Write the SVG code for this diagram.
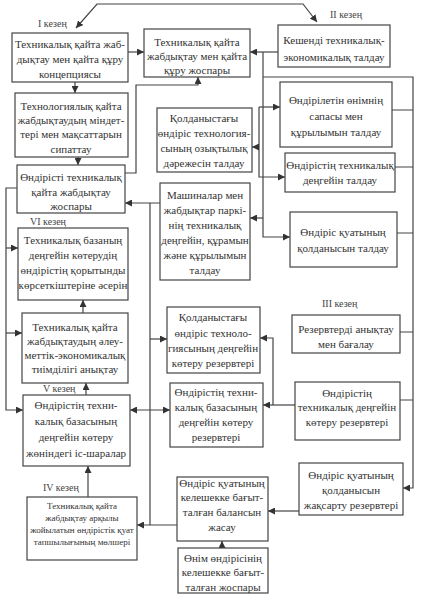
<svg xmlns="http://www.w3.org/2000/svg" width="424" height="600" viewBox="0 0 424 600">
<defs>
<marker id="ah" viewBox="0 0 10 10" refX="10" refY="5" markerWidth="7" markerHeight="7" markerUnits="userSpaceOnUse" orient="auto-start-reverse">
<path d="M0,0 L10,5 L0,10 z" fill="#333"/>
</marker>
<style>
.b{fill:#fff;stroke:#444;stroke-width:1.2}
.t{font-family:"Liberation Serif","DejaVu Serif",serif;font-size:11px;fill:#333;text-anchor:middle}
.s{font-size:9px}
.l{font-family:"Liberation Serif","DejaVu Serif",serif;font-size:10px;fill:#444}
.c{fill:none;stroke:#444;stroke-width:1.2}
.a{marker-end:url(#ah)}
.d{marker-start:url(#ah);marker-end:url(#ah)}
</style>
</defs>
<rect width="424" height="600" fill="#fff"/>
<g id="connectors">
<path class="c d" d="M76,28 L97,4 L303,4 L317,22"/>
<path class="c a" d="M128,52 H144"/>
<path class="c a" d="M278,52 H250"/>
<path class="c a" d="M75,82 V93"/>
<path class="c a" d="M78,157 V165"/>
<path class="c a" d="M125,173 H136 V85 H198 V77"/>
<path class="c a" d="M17,188 H6 V410 H23"/>
<path class="c a" d="M6,248 H18"/>
<path class="c a" d="M6,333 H22"/>
<path class="c a" d="M83,313 V300"/>
<path class="c a" d="M86,395 V383"/>
<path class="c a" d="M88,497 V466"/>
<path class="c a" d="M160,203 H125"/>
<path class="c" d="M150,203 V525"/>
<path class="c a" d="M177,525 H137"/>
<path class="c a" d="M150,339 H167"/>
<path class="c d" d="M130,410 H170"/>
<path class="c a" d="M263,52 V237 H290"/>
<path class="c a" d="M263,218 H250"/>
<path class="c a" d="M263,77 H413 V488 H403"/>
<path class="c a" d="M259,107 V177 H285"/>
<path class="c a" d="M259,107 H280"/>
<path class="c a" d="M259,147 H252"/>
<path class="c" d="M392,110 H413 M395,167 H413 M397,233 H413 M400,332 H413 M400,400 H413"/>
<path class="c a" d="M295,405 H263"/>
<path class="c a" d="M273,405 V338 H260"/>
<path class="c a" d="M299,511 H268"/>
<path class="c a" d="M222,548 V541"/>
</g>
<text class="l" x="38" y="27">I кезең</text>
<text class="l" x="330" y="18">II кезең</text>
<text class="l" x="30" y="225">VI кезең</text>
<text class="l" x="43" y="392">V кезең</text>
<text class="l" x="43" y="491">IV кезең</text>
<text class="l" x="322" y="307">III кезең</text>
<g id="A"><rect class="b" x="12" y="33" width="116" height="49"/>
<text class="t" x="70" y="48">Техникалық қайта жаб-</text><text class="t" x="70" y="63">дықтау мен қайта құру</text><text class="t" x="70" y="78">концепциясы</text></g>
<g id="B"><rect class="b" x="144" y="29" width="106" height="48"/>
<text class="t" x="197" y="46">Техникалық қайта</text><text class="t" x="197" y="60">жабдықтау мен қайта</text><text class="t" x="197" y="74">құру жоспары</text></g>
<g id="C"><rect class="b" x="278" y="25" width="112" height="42"/>
<text class="t" x="334" y="44">Кешенді техникалық-</text><text class="t" x="334" y="61">экономикалық талдау</text></g>
<g id="D"><rect class="b" x="15" y="93" width="113" height="64"/>
<text class="t" x="71" y="110">Технологиялық қайта</text><text class="t" x="71" y="124">жабдықтаудың міндет-</text><text class="t" x="71" y="138">тері мен мақсаттарын</text><text class="t" x="71" y="153">сипаттау</text></g>
<g id="E"><rect class="b" x="17" y="165" width="108" height="48"/>
<text class="t" x="71" y="181">Өндірісті техникалық</text><text class="t" x="71" y="196">қайта жабдықтау</text><text class="t" x="71" y="210">жоспары</text></g>
<g id="F"><rect class="b" x="18" y="228" width="110" height="72"/>
<text class="t" x="73" y="244">Техникалық базаның</text><text class="t" x="73" y="259">деңгейін көтерудің</text><text class="t" x="73" y="274">өндірістің қорытынды</text><text class="t" x="73" y="289">көрсеткіштеріне әсерін</text></g>
<g id="G"><rect class="b" x="22" y="313" width="106" height="70"/>
<text class="t" x="75" y="331">Техникалық қайта</text><text class="t" x="75" y="345">жабдықтаудың әлеу-</text><text class="t" x="75" y="359">меттік-экономикалық</text><text class="t" x="75" y="373">тиімділігі анықтау</text></g>
<g id="H"><rect class="b" x="23" y="395" width="107" height="71"/>
<text class="t" x="76" y="409">Өндірістің техни-</text><text class="t" x="76" y="425">калық базасының</text><text class="t" x="76" y="441">деңгейін көтеру</text><text class="t" x="76" y="457">жөніндегі іс-шаралар</text></g>
<g id="I"><rect class="b" x="27" y="497" width="110" height="63"/>
<text class="t s" x="82" y="509">Техникалық қайта</text><text class="t s" x="82" y="521">жабдықтау арқылы</text><text class="t s" x="82" y="533">жойылатын өндірістік қуат</text><text class="t s" x="82" y="545">тапшылығының мөлшері</text></g>
<g id="J"><rect class="b" x="157" y="108" width="95" height="64"/>
<text class="t" x="204" y="122">Қолданыстағы</text><text class="t" x="204" y="137">өндіріс технология-</text><text class="t" x="204" y="152">сының озықтылық</text><text class="t" x="204" y="167">дәрежесін талдау</text></g>
<g id="K"><rect class="b" x="160" y="183" width="90" height="97"/>
<text class="t" x="205" y="199">Машиналар мен</text><text class="t" x="205" y="214">жабдықтар паркі-</text><text class="t" x="205" y="229">нің техникалық</text><text class="t" x="205" y="244">деңгейін, құрамын</text><text class="t" x="205" y="259">және құрылымын</text><text class="t" x="205" y="274">талдау</text></g>
<g id="O"><rect class="b" x="280" y="82" width="112" height="65"/>
<text class="t" x="336" y="104">Өндірілетін өнімнің</text><text class="t" x="336" y="120">сапасы мен</text><text class="t" x="336" y="136">құрылымын талдау</text></g>
<g id="P"><rect class="b" x="285" y="153" width="110" height="39"/>
<text class="t" x="340" y="169">Өндірістің техникалық</text><text class="t" x="340" y="184">деңгейін талдау</text></g>
<g id="Q"><rect class="b" x="290" y="212" width="107" height="55"/>
<text class="t" x="343" y="236">Өндіріс қуатының</text><text class="t" x="343" y="252">қолданысын талдау</text></g>
<g id="R"><rect class="b" x="292" y="315" width="108" height="38"/>
<text class="t" x="346" y="333">Резервтерді анықтау</text><text class="t" x="346" y="348">мен бағалау</text></g>
<g id="L"><rect class="b" x="167" y="307" width="93" height="66"/>
<text class="t" x="213" y="321">Қолданыстағы</text><text class="t" x="213" y="337">өндіріс техноло-</text><text class="t" x="213" y="352">гиясының деңгейін</text><text class="t" x="213" y="367">көтеру резервтері</text></g>
<g id="M"><rect class="b" x="170" y="383" width="93" height="64"/>
<text class="t" x="216" y="396">Өндірістің техни-</text><text class="t" x="216" y="411">калық базасының</text><text class="t" x="216" y="426">деңгейін көтеру</text><text class="t" x="216" y="441">резервтері</text></g>
<g id="S"><rect class="b" x="295" y="382" width="105" height="58"/>
<text class="t" x="347" y="397">Өндірістің</text><text class="t" x="347" y="411">техникалық деңгейін</text><text class="t" x="347" y="426">көтеру резервтері</text></g>
<g id="T"><rect class="b" x="299" y="463" width="104" height="52"/>
<text class="t" x="351" y="479">Өндіріс қуатының</text><text class="t" x="351" y="494">қолданысын</text><text class="t" x="351" y="509">жақсарту резервтері</text></g>
<g id="N"><rect class="b" x="177" y="477" width="91" height="64"/>
<text class="t" x="222" y="487">Өндіріс қуатының</text><text class="t" x="222" y="501">келешекке бағыт-</text><text class="t" x="222" y="516">талған балансын</text><text class="t" x="222" y="531">жасау</text></g>
<g id="U"><rect class="b" x="178" y="548" width="90" height="45"/>
<text class="t" x="223" y="562">Өнім өндірісінің</text><text class="t" x="223" y="576">келешекке бағыт-</text><text class="t" x="223" y="591">талған жоспары</text></g>
</svg>
